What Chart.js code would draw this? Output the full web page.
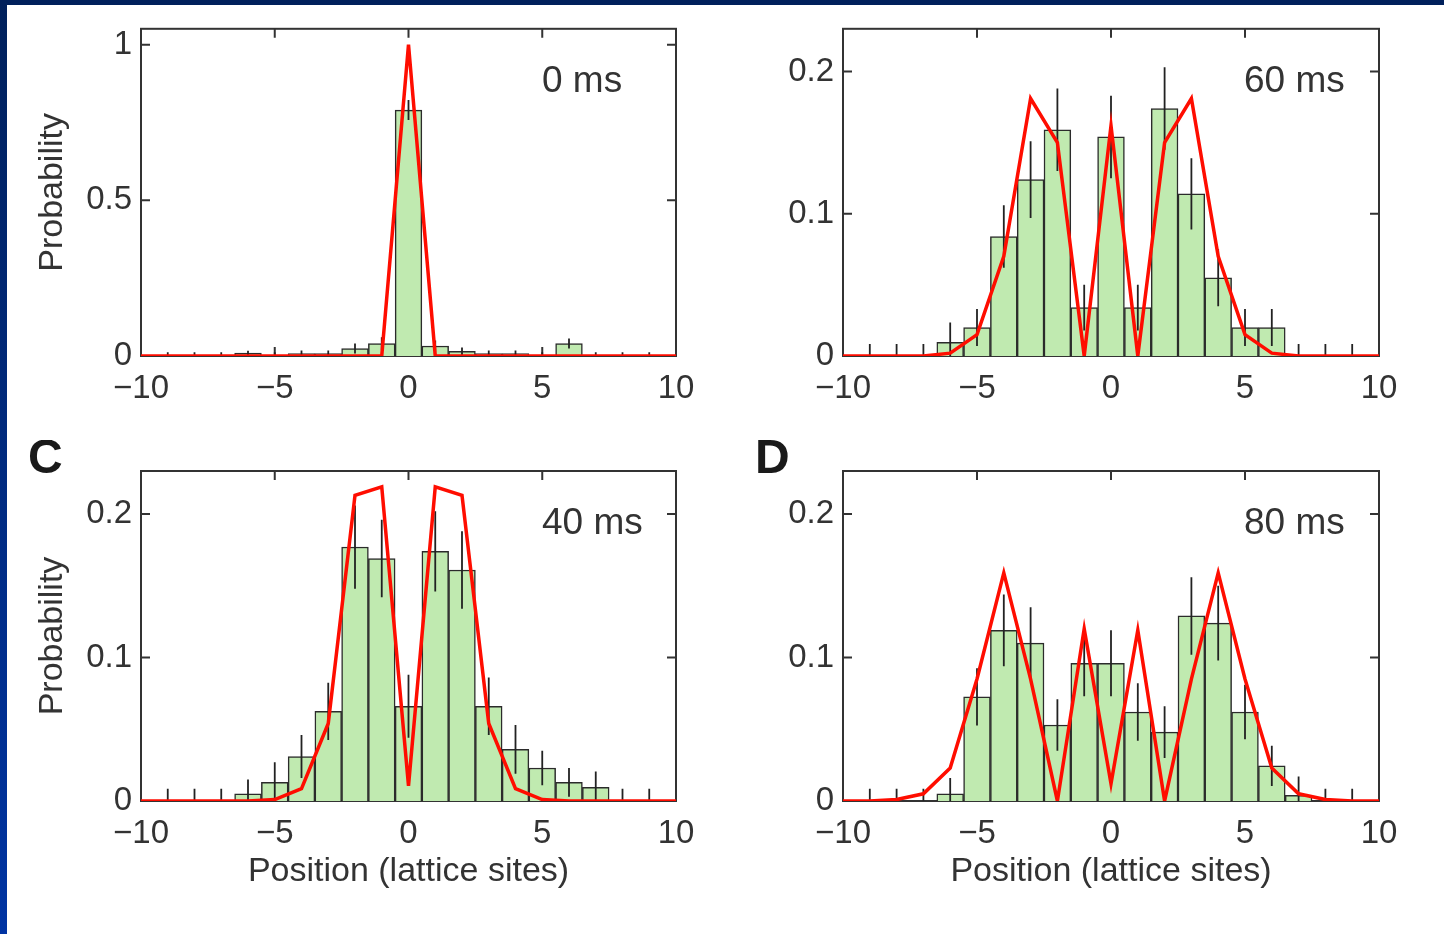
<!DOCTYPE html>
<html>
<head>
<meta charset="utf-8">
<title>Position distributions</title>
<script src="https://cdn.jsdelivr.net/npm/chart.js@4.4.1/dist/chart.umd.min.js"></script>
<style>
  html, body { margin: 0; padding: 0; }
  body {
    width: 1444px; height: 934px; overflow: hidden; position: relative;
    background: linear-gradient(to bottom, #00205b, #0034a3);
  }
  #sheet { position: absolute; left: 7px; top: 5px; right: 0; bottom: 0; background: #fff; }
  canvas { position: absolute; }
</style>
</head>
<body>
<div id="sheet"></div>
<canvas id="panelA" width="720" height="440" style="left:0px;top:0px"></canvas>
<canvas id="panelB" width="724" height="440" style="left:720px;top:0px"></canvas>
<canvas id="panelC" width="720" height="494" style="left:0px;top:440px"></canvas>
<canvas id="panelD" width="724" height="494" style="left:720px;top:440px"></canvas>
<script>
// lattice sites -10 .. 10
const sites = [-10, -9, -8, -7, -6, -5, -4, -3, -2, -1, 0, 1, 2, 3, 4, 5, 6, 7, 8, 9, 10];

// 0 ms
const probA = [0, 0, 0, 0, 0.009, 0, 0.008, 0.008, 0.024, 0.04, 0.79, 0.032, 0.015, 0.008, 0.008, 0, 0.04, 0, 0, 0, 0];
const errA  = [null, 0.012, 0.012, 0.012, 0.008, 0.012, 0.01, 0.01, 0.016, 0.02, 0.032, 0.018, 0.012, 0.01, 0.01, 0.012, 0.016, 0.012, 0.012, 0.012, null];
const fitA  = [0, 0, 0, 0, 0, 0, 0, 0, 0, 0, 1.0, 0, 0, 0, 0, 0, 0, 0, 0, 0, 0];

// 60 ms
const probB = [0, 0, 0, 0, 0.0096, 0.02, 0.084, 0.124, 0.159, 0.034, 0.154, 0.034, 0.174, 0.114, 0.055, 0.02, 0.02, 0, 0, 0, 0];
const errB  = [null, 0.0085, 0.0085, 0.0085, 0.014, 0.013, 0.022, 0.027, 0.029, 0.016, 0.029, 0.016, 0.029, 0.025, 0.02, 0.013, 0.013, 0.0085, 0.0085, 0.0085, null];
const fitB  = [0, 0, 0, 0, 0.002, 0.015, 0.07, 0.181, 0.15, 0, 0.162, 0, 0.15, 0.181, 0.07, 0.015, 0.002, 0, 0, 0, 0];

// 40 ms
const probC = [0, 0, 0, 0, 0.005, 0.013, 0.031, 0.0625, 0.177, 0.169, 0.066, 0.174, 0.161, 0.066, 0.036, 0.023, 0.013, 0.0096, 0, 0, 0];
const errC  = [null, 0.0086, 0.0086, 0.0086, 0.01, 0.014, 0.015, 0.02, 0.029, 0.027, 0.022, 0.028, 0.027, 0.02, 0.017, 0.012, 0.01, 0.011, 0.0086, 0.0086, null];
const fitC  = [0, 0, 0, 0, 0, 0.001, 0.0086, 0.054, 0.213, 0.219, 0.0105, 0.219, 0.213, 0.054, 0.0086, 0.001, 0, 0, 0, 0, 0];

// 80 ms
const probD = [0, 0, 0, 0, 0.005, 0.0726, 0.119, 0.11, 0.053, 0.096, 0.096, 0.062, 0.048, 0.129, 0.124, 0.062, 0.0245, 0.004, 0, 0, 0];
const errD  = [null, 0.0086, 0.0086, 0.0086, 0.011, 0.02, 0.025, 0.025, 0.018, 0.023, 0.023, 0.02, 0.018, 0.027, 0.026, 0.019, 0.014, 0.013, 0.0086, 0.0086, null];
const fitD  = [0, 0, 0.001, 0.005, 0.023, 0.085, 0.159, 0.085, 0, 0.12, 0.012, 0.119, 0, 0.085, 0.159, 0.085, 0.023, 0.005, 0.001, 0, 0];

const FONT = '"Liberation Sans", Arial, Helvetica, sans-serif';
const INK = '#333333';

// box around the plot area with inward tick marks on all four sides
const framePlugin = {
  id: 'frame',
  beforeDatasetsDraw(chart) {
    const { ctx, chartArea: a, scales: { x, y } } = chart;
    const len = 9;
    ctx.save();
    ctx.strokeStyle = INK;
    ctx.lineWidth = 2;
    ctx.strokeRect(a.left, a.top, a.right - a.left, a.bottom - a.top);
    ctx.beginPath();
    x.ticks.forEach(t => {
      if (t.value <= x.min || t.value >= x.max) return;
      const px = x.getPixelForValue(t.value);
      ctx.moveTo(px, a.bottom); ctx.lineTo(px, a.bottom - len);
      ctx.moveTo(px, a.top); ctx.lineTo(px, a.top + len);
    });
    y.ticks.forEach(t => {
      if (t.value <= y.min || t.value >= y.max) return;
      const py = y.getPixelForValue(t.value);
      ctx.moveTo(a.left, py); ctx.lineTo(a.left + len, py);
      ctx.moveTo(a.right, py); ctx.lineTo(a.right - len, py);
    });
    ctx.stroke();
    ctx.restore();
  }
};

// vertical error bars, drawn right after the histogram bars
const errorBarPlugin = {
  id: 'errorBars',
  afterDatasetDraw(chart, args, opts) {
    if (args.meta.type !== 'bar') return;
    const { ctx, scales: { x, y } } = chart;
    ctx.save();
    ctx.strokeStyle = '#222222';
    ctx.lineWidth = 1.8;
    ctx.beginPath();
    sites.forEach((s, i) => {
      const e = opts.errors[i];
      if (e == null) return;
      const v = opts.values[i];
      const px = x.getPixelForValue(s);
      ctx.moveTo(px, y.getPixelForValue(Math.max(0, v - e)));
      ctx.lineTo(px, y.getPixelForValue(v + e));
    });
    ctx.stroke();
    ctx.restore();
  }
};

// hold time inside the plot, panel letter outside
const captionPlugin = {
  id: 'captions',
  afterDraw(chart, args, opts) {
    const { ctx, chartArea: a } = chart;
    ctx.save();
    ctx.textBaseline = 'alphabetic';
    ctx.fillStyle = INK;
    ctx.font = '37px ' + FONT;
    ctx.fillText(opts.time, a.left + 401, a.top + 63);
    if (opts.letter) {
      ctx.fillStyle = '#1a1a1a';
      ctx.font = 'bold 48px ' + FONT;
      ctx.fillText(opts.letter, opts.letterX, a.top + 2);
    }
    ctx.restore();
  }
};

function makePanel(id, p) {
  return new Chart(document.getElementById(id), {
    type: 'bar',
    data: {
      datasets: [
        {
          type: 'line',
          data: sites.map((s, i) => ({ x: s, y: p.fit[i] })),
          borderColor: '#ff0d00',
          borderWidth: 3.5,
          pointRadius: 0,
          tension: 0,
          order: 0
        },
        {
          type: 'bar',
          data: sites.map((s, i) => ({ x: s, y: p.prob[i] || null })),
          backgroundColor: '#c0eab0',
          borderColor: '#2b2b2b',
          borderWidth: 1.5,
          barPercentage: 1,
          categoryPercentage: 1,
          order: 1
        }
      ]
    },
    options: {
      responsive: false,
      animation: false,
      devicePixelRatio: 1,
      layout: { padding: { left: 0, top: p.padTop, right: p.padRight, bottom: 0 } },
      plugins: {
        legend: { display: false },
        tooltip: { enabled: false },
        errorBars: { values: p.prob, errors: p.err },
        captions: { time: p.time, letter: p.letter, letterX: p.letterX }
      },
      scales: {
        x: {
          type: 'linear',
          min: -10,
          max: 10,
          offset: false,
          grid: { display: false, drawTicks: false },
          border: { display: false },
          ticks: {
            stepSize: 5,
            padding: 13,
            color: INK,
            font: { family: FONT, size: 33 },
            callback: v => String(v).replace('-', '\u2212')
          },
          title: {
            display: p.xTitle,
            text: 'Position (lattice sites)',
            color: INK,
            font: { family: FONT, size: 34 },
            padding: { top: 0, bottom: 42 }
          },
          afterFit: s => { s.height = p.xAxisHeight; }
        },
        y: {
          min: 0,
          max: p.yMax,
          grid: { display: false, drawTicks: false },
          border: { display: false },
          ticks: {
            stepSize: p.yStep,
            includeBounds: false,
            padding: 9,
            color: INK,
            font: { family: FONT, size: 33 },
            callback: v => String(+v.toFixed(2))
          },
          title: {
            display: p.yTitle,
            text: 'Probability',
            color: INK,
            font: { family: FONT, size: 34 },
            padding: { top: 32, bottom: 0 }
          },
          afterFit: s => { s.width = p.yAxisWidth; }
        }
      }
    },
    plugins: [framePlugin, errorBarPlugin, captionPlugin]
  });
}

makePanel('panelA', {
  prob: probA, err: errA, fit: fitA, time: '0 ms',
  yMax: 1.051, yStep: 0.5, yTitle: true, xTitle: false,
  padTop: 26, padRight: 44, yAxisWidth: 141, xAxisHeight: 84
});
makePanel('panelB', {
  prob: probB, err: errB, fit: fitB, time: '60 ms',
  yMax: 0.23, yStep: 0.1, yTitle: false, xTitle: false,
  padTop: 26, padRight: 65, yAxisWidth: 123, xAxisHeight: 84
});
makePanel('panelC', {
  prob: probC, err: errC, fit: fitC, time: '40 ms', letter: 'C', letterX: 28,
  yMax: 0.23, yStep: 0.1, yTitle: true, xTitle: true,
  padTop: 31, padRight: 44, yAxisWidth: 141, xAxisHeight: 133
});
makePanel('panelD', {
  prob: probD, err: errD, fit: fitD, time: '80 ms', letter: 'D', letterX: 35,
  yMax: 0.23, yStep: 0.1, yTitle: false, xTitle: true,
  padTop: 31, padRight: 65, yAxisWidth: 123, xAxisHeight: 133
});
</script>
</body>
</html>
